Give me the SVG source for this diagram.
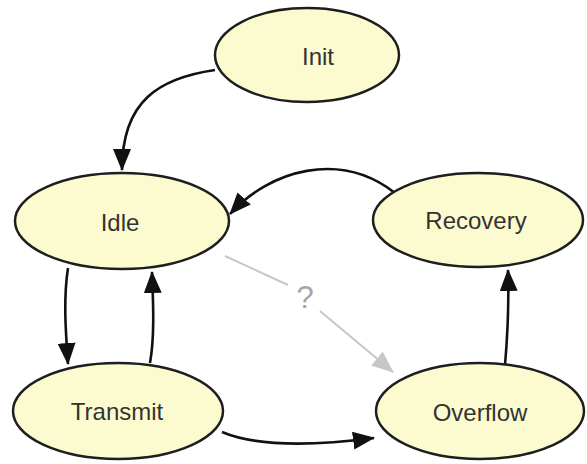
<svg xmlns="http://www.w3.org/2000/svg" width="587" height="464" viewBox="0 0 587 464">
<defs>
<style>
.node ellipse{fill:#fcfbcf;stroke:#1e1e1e;stroke-width:2.5}
.node text{font-family:"Liberation Sans",Arial,sans-serif;font-size:24px;fill:#333;text-anchor:middle;dominant-baseline:central}
.edge{fill:none;stroke:#111;stroke-width:2.6}
.grey{fill:none;stroke:#c8c6c6;stroke-width:2}
</style>
<marker id="ahb" viewBox="0 0 22 18" refX="21" refY="9" markerWidth="22" markerHeight="18" markerUnits="userSpaceOnUse" orient="auto">
<path d="M0,0 L22,9 L0,18 z" fill="#111"/>
</marker>
<marker id="ahg" viewBox="0 0 22 18" refX="21" refY="9" markerWidth="22" markerHeight="18" markerUnits="userSpaceOnUse" orient="auto">
<path d="M0,0 L22,9 L0,18 z" fill="#c8c6c6"/>
</marker>
</defs>
<rect width="587" height="464" fill="#fff"/>
<g id="connectors">
<path class="edge" d="M215,70 C160,78 122,100 122,170" marker-end="url(#ahb)"/>
<path class="edge" d="M395,193 C340,150 270,170 230,214" marker-end="url(#ahb)"/>
<path class="edge" d="M68,268 C63,300 66,335 68,364" marker-end="url(#ahb)"/>
<path class="edge" d="M150,363 C155,335 153,300 152,272" marker-end="url(#ahb)"/>
<path class="edge" d="M222,432 C260,448 320,445 374,438" marker-end="url(#ahb)"/>
<path class="edge" d="M505,365 C508,330 509,300 508,270" marker-end="url(#ahb)"/>
<path class="grey" d="M225,256 L288,285 M320,311 L393,372" marker-end="url(#ahg)"/>
<text x="305" y="297" font-family="'Liberation Sans',Arial,sans-serif" font-size="31" fill="#a8a4a6" text-anchor="middle" dominant-baseline="central">?</text>
</g>
<g id="init" class="node"><ellipse cx="307" cy="55" rx="92" ry="47"/><text x="318" y="56">Init</text></g>
<g id="idle" class="node"><ellipse cx="122" cy="221" rx="107" ry="48"/><text x="120" y="222">Idle</text></g>
<g id="recovery" class="node"><ellipse cx="478" cy="220" rx="105" ry="47"/><text x="476" y="220">Recovery</text></g>
<g id="transmit" class="node"><ellipse cx="118" cy="411" rx="105" ry="48"/><text x="117" y="411">Transmit</text></g>
<g id="overflow" class="node"><ellipse cx="480" cy="411" rx="104" ry="48"/><text x="480" y="412">Overflow</text></g>
</svg>
